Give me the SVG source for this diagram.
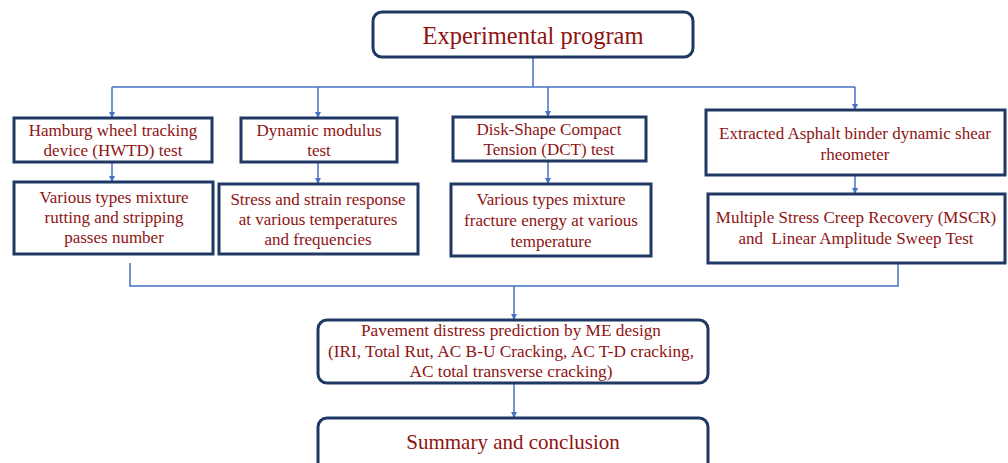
<svg xmlns="http://www.w3.org/2000/svg" width="1008" height="463" viewBox="0 0 1008 463">
<defs>
<marker id="ah" viewBox="0 0 10 10" refX="10" refY="5" markerWidth="6" markerHeight="6" markerUnits="userSpaceOnUse" orient="auto">
<path d="M0,0 L10,5 L0,10 z" fill="#4472C4"/>
</marker>
<style>
.box{fill:#fff;stroke:#1F3864;stroke-width:3}
.t{font-family:"Liberation Serif","Times New Roman",serif;fill:#8E1414;text-anchor:middle;font-size:17px}
.s{font-size:17.3px}
.b{font-size:24.5px}
.m{font-size:21px}
.c{fill:none;stroke:#4472C4;stroke-width:1.5}
</style>
</defs>
<rect width="1008" height="463" fill="#fff"/>
<g id="connectors">
<path class="c" d="M533,57 V87 M112,87 H855"/>
<path class="c" d="M112,87 V118" marker-end="url(#ah)"/>
<path class="c" d="M318,87 V118" marker-end="url(#ah)"/>
<path class="c" d="M548,87 V117" marker-end="url(#ah)"/>
<path class="c" d="M855,87 V110" marker-end="url(#ah)"/>
<path class="c" d="M112,162 V182" marker-end="url(#ah)"/>
<path class="c" d="M318,162 V184" marker-end="url(#ah)"/>
<path class="c" d="M548,161 V184" marker-end="url(#ah)"/>
<path class="c" d="M855,175 V194" marker-end="url(#ah)"/>
<path class="c" d="M130,263 V286 H898 V263"/>
<path class="c" d="M514,286 V320" marker-end="url(#ah)"/>
<path class="c" d="M514,383 V418" marker-end="url(#ah)"/>
</g>
<g id="experimental-program">
<rect class="box" x="373" y="12" width="320" height="45" rx="9"/>
<text class="t b" x="533" y="44">Experimental program</text>
</g>
<g id="hwtd">
<rect class="box" x="14" y="118" width="198" height="44"/>
<text class="t" x="113" y="136">Hamburg wheel tracking</text>
<text class="t" x="113" y="156">device (HWTD) test</text>
</g>
<g id="dynamic-modulus">
<rect class="box" x="241" y="118" width="156" height="44"/>
<text class="t" x="319" y="136">Dynamic modulus</text>
<text class="t" x="319" y="156">test</text>
</g>
<g id="dct">
<rect class="box" x="453" y="117" width="193" height="44"/>
<text class="t" x="549" y="135">Disk-Shape Compact</text>
<text class="t" x="549" y="155">Tension (DCT) test</text>
</g>
<g id="dsr">
<rect class="box" x="706" y="110" width="299" height="65"/>
<text class="t" x="855" y="139">Extracted Asphalt binder dynamic shear</text>
<text class="t" x="855" y="160">rheometer</text>
</g>
<g id="rutting">
<rect class="box" x="14" y="182" width="199" height="72"/>
<text class="t" x="114" y="203">Various types mixture</text>
<text class="t" x="114" y="223">rutting and stripping</text>
<text class="t" x="114" y="243">passes number</text>
</g>
<g id="stress-strain">
<rect class="box" x="219" y="184" width="199" height="70"/>
<text class="t" x="318" y="205">Stress and strain response</text>
<text class="t" x="318" y="225">at various temperatures</text>
<text class="t" x="318" y="245">and frequencies</text>
</g>
<g id="fracture">
<rect class="box" x="451" y="184" width="200" height="72"/>
<text class="t" x="551" y="205">Various types mixture</text>
<text class="t" x="551" y="226">fracture energy at various</text>
<text class="t" x="551" y="247">temperature</text>
</g>
<g id="mscr">
<rect class="box" x="708" y="194" width="297" height="69"/>
<text class="t" x="856" y="223">Multiple Stress Creep Recovery (MSCR)</text>
<text class="t" x="856" y="244" xml:space="preserve">and  Linear Amplitude Sweep Test</text>
</g>
<g id="me-design">
<rect class="box" x="318" y="320" width="390" height="63" rx="9"/>
<text class="t s" x="511" y="336">Pavement distress prediction by ME design</text>
<text class="t s" x="511" y="357">(IRI, Total Rut, AC B-U Cracking, AC T-D cracking,</text>
<text class="t s" x="511" y="377">AC total transverse cracking)</text>
</g>
<g id="summary">
<rect class="box" x="318" y="418" width="390" height="60" rx="9"/>
<text class="t m" x="513" y="449">Summary and conclusion</text>
</g>
</svg>
